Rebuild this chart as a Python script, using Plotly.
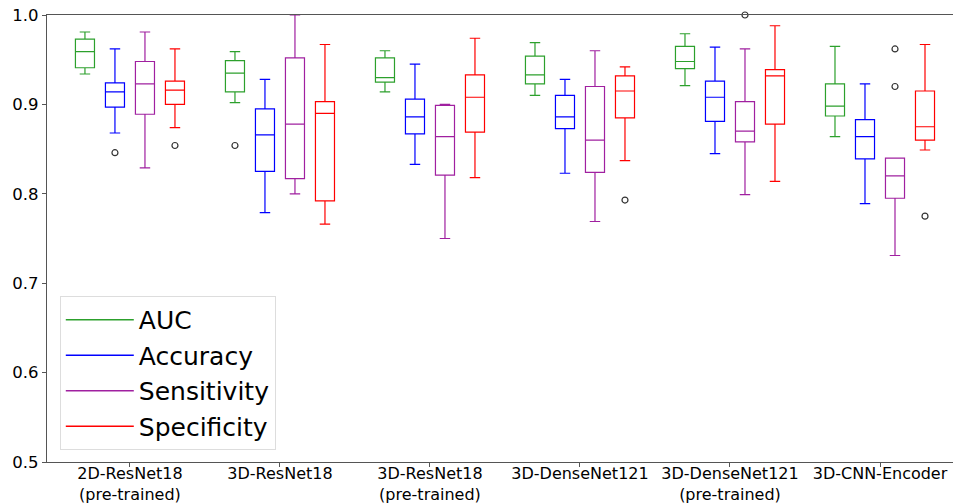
import plotly.graph_objects as go

categories = ["2D-ResNet18<br>(pre-trained)", "3D-ResNet18", "3D-ResNet18<br>(pre-trained)",
              "3D-DenseNet121", "3D-DenseNet121<br>(pre-trained)", "3D-CNN-Encoder"]
metrics = ["AUC", "Accuracy", "Sensitivity", "Specificity"]
colors = ["#2ca02c", "#0000ff", "#a020a0", "#ff0000"]

# per-metric box statistics across the 6 models
auc_lo  = [0.934, 0.902, 0.914, 0.910, 0.921, 0.864]
auc_q1  = [0.941, 0.914, 0.925, 0.923, 0.940, 0.887]
auc_med = [0.959, 0.935, 0.930, 0.933, 0.948, 0.898]
auc_q3  = [0.973, 0.949, 0.952, 0.954, 0.965, 0.923]
auc_hi  = [0.981, 0.959, 0.960, 0.969, 0.979, 0.965]

acc_lo  = [0.868, 0.779, 0.833, 0.823, 0.845, 0.789]
acc_q1  = [0.897, 0.825, 0.867, 0.873, 0.881, 0.839]
acc_med = [0.914, 0.866, 0.886, 0.886, 0.908, 0.864]
acc_q3  = [0.924, 0.895, 0.906, 0.910, 0.926, 0.883]
acc_hi  = [0.962, 0.928, 0.945, 0.928, 0.964, 0.923]

sen_lo  = [0.829, 0.800, 0.750, 0.769, 0.799, 0.731]
sen_q1  = [0.889, 0.817, 0.821, 0.824, 0.858, 0.795]
sen_med = [0.923, 0.878, 0.864, 0.860, 0.870, 0.820]
sen_q3  = [0.948, 0.952, 0.899, 0.920, 0.903, 0.840]
sen_hi  = [0.981, 1.000, 0.900, 0.960, 0.962, 0.840]

spe_lo  = [0.874, 0.766, 0.818, 0.837, 0.814, 0.849]
spe_q1  = [0.900, 0.792, 0.869, 0.885, 0.878, 0.860]
spe_med = [0.916, 0.890, 0.908, 0.915, 0.932, 0.875]
spe_q3  = [0.926, 0.903, 0.933, 0.932, 0.939, 0.915]
spe_hi  = [0.962, 0.967, 0.974, 0.942, 0.988, 0.967]

# outliers: model index, metric index, value
outlier_group  = [0, 0, 1, 3, 4, 5, 5, 5]
outlier_metric = [1, 3, 0, 3, 2, 2, 2, 3]
outlier_value  = [0.846, 0.854, 0.854, 0.793, 1.000, 0.962, 0.920, 0.775]

yticks = [0.5, 0.6, 0.7, 0.8, 0.9, 1.0]

stats = [
    (auc_lo, auc_q1, auc_med, auc_q3, auc_hi),
    (acc_lo, acc_q1, acc_med, acc_q3, acc_hi),
    (sen_lo, sen_q1, sen_med, sen_q3, sen_hi),
    (spe_lo, spe_q1, spe_med, spe_q3, spe_hi),
]
offsets = [-0.3, -0.1, 0.1, 0.3]

fig = go.Figure()
for m, (lo, q1, med, q3, hi) in enumerate(stats):
    for g in range(len(categories)):
        fig.add_trace(go.Box(
            x=[g + offsets[m]], q1=[q1[g]], median=[med[g]], q3=[q3[g]],
            lowerfence=[lo[g]], upperfence=[hi[g]],
            width=0.127, whiskerwidth=0.55,
            line=dict(color=colors[m], width=1.2),
            fillcolor="rgba(0,0,0,0)", boxpoints=False,
            showlegend=False, hoverinfo="skip",
        ))

fig.add_trace(go.Scatter(
    x=[outlier_group[i] + offsets[outlier_metric[i]] for i in range(len(outlier_value))],
    y=outlier_value, mode="markers",
    marker=dict(symbol="circle-open", size=6, color="#333333", line=dict(width=1.2)),
    showlegend=False, hoverinfo="skip", cliponaxis=False,
))

for m, name in enumerate(metrics):
    fig.add_trace(go.Scatter(
        x=[None], y=[None], mode="lines", name=name,
        line=dict(color=colors[m], width=1.5),
    ))

fig.update_layout(
    width=953, height=496,
    margin=dict(l=39, r=0, t=7, b=42),
    paper_bgcolor="white", plot_bgcolor="white",
    font=dict(family="DejaVu Sans", color="black"),
    legend=dict(
        x=0.014, y=0.027, xanchor="left", yanchor="bottom",
        font=dict(size=25, family="DejaVu Sans"),
        bgcolor="rgba(255,255,255,0.85)", bordercolor="#dddddd", borderwidth=1,
        itemwidth=68, tracegroupgap=0,
    ),
)
fig.update_xaxes(
    range=[-0.553, 5.54], tickmode="array",
    tickvals=list(range(len(categories))), ticktext=categories,
    showline=True, linecolor="#555555", linewidth=1.3, mirror=True,
    ticks="outside", ticklen=4, tickcolor="#555555",
    showgrid=False, zeroline=False, automargin=False,
    ticklabelstandoff=-7, ticklabeloverflow="allow",
    tickfont=dict(size=16, family="DejaVu Sans"),
)
fig.update_yaxes(
    range=[0.5, 1.0], tickmode="array", tickvals=yticks,
    ticktext=[f"{v:.1f}" for v in yticks],
    showline=True, linecolor="#555555", linewidth=1.3,
    ticks="outside", ticklen=4, tickcolor="#555555",
    showgrid=False, zeroline=False, automargin=False,
    ticklabeloverflow="allow",
    tickfont=dict(size=16.5, family="DejaVu Sans"),
)

fig.write_html("out.html")
